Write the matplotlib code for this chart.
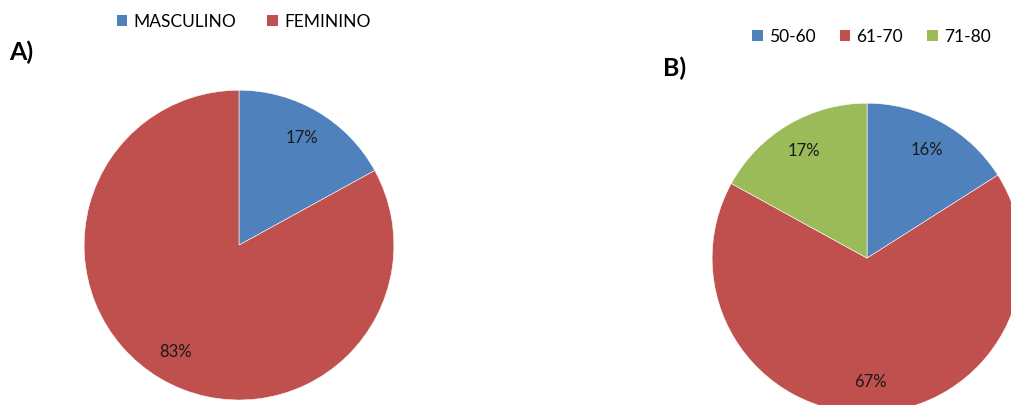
import matplotlib
matplotlib.use('Agg')
import matplotlib.pyplot as plt
from matplotlib.patches import Patch

plt.rcParams['font.family'] = ['Lato', 'DejaVu Sans']

# dados
sexo_labels = ['MASCULINO', 'FEMININO']
sexo_valores = [17, 83]
idade_labels = ['50-60', '61-70', '71-80']
idade_valores = [16, 67, 17]

azul = '#4F81BD'
vermelho = '#C0504D'
verde = '#9BBB59'

fig = plt.figure(figsize=(10.11, 4.05), dpi=100)

# grafico A (sexo)
ax_a = fig.add_axes([0.0831, 0.0123, 0.3066, 0.765])
ax_a.pie(sexo_valores, colors=[azul, vermelho], startangle=90, counterclock=False,
         autopct='%1.0f%%', pctdistance=0.8,
         wedgeprops=dict(edgecolor='white', linewidth=0.4),
         textprops=dict(fontsize=12, color='#1a1a1a'))
ax_a.set_xlim(-1, 1)
ax_a.set_ylim(-1, 1)
ax_a.set_aspect('equal')

# grafico B (idade)
ax_b = fig.add_axes([0.7043, -0.0198, 0.3066, 0.765])
ax_b.pie(idade_valores, colors=[azul, vermelho, verde], startangle=90, counterclock=False,
         autopct='%1.0f%%', pctdistance=0.8,
         wedgeprops=dict(edgecolor='white', linewidth=0.4),
         textprops=dict(fontsize=12, color='#1a1a1a'))
ax_b.set_xlim(-1, 1)
ax_b.set_ylim(-1, 1)
ax_b.set_aspect('equal')

# legendas
h_a = [Patch(facecolor=c) for c in [azul, vermelho]]
fig.legend(h_a, sexo_labels, loc='center', bbox_to_anchor=(0.241, 0.9457), ncol=2,
           frameon=False, handlelength=0.6, handleheight=0.6, handletextpad=0.35,
           columnspacing=1.8, fontsize=12.5)

h_b = [Patch(facecolor=c) for c in [azul, vermelho, verde]]
fig.legend(h_b, idade_labels, loc='center', bbox_to_anchor=(0.862, 0.9086), ncol=3,
           frameon=False, handlelength=0.6, handleheight=0.6, handletextpad=0.35,
           columnspacing=1.4, fontsize=12.5)

# letras
fig.text(0.009, 0.87, 'A)', fontsize=18, fontweight='bold', va='center', ha='left')
fig.text(0.656, 0.832, 'B)', fontsize=18, fontweight='bold', va='center', ha='left')

fig.savefig('out.png', dpi=100)
